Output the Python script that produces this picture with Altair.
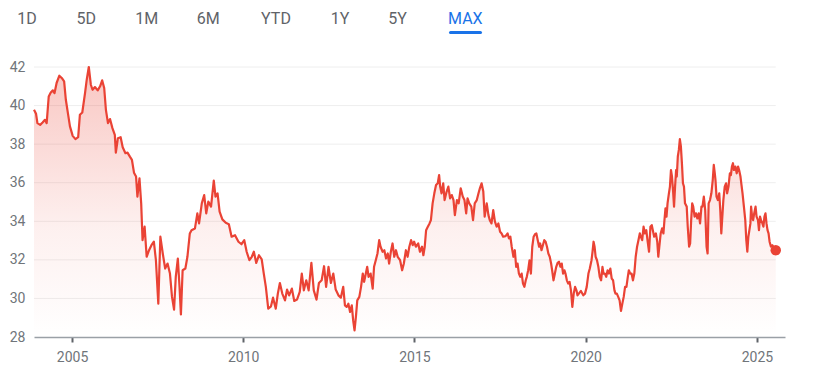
import altair as alt
import pandas as pd

# ---- data (decimal year, price) ----
years = [
    2003.89, 2003.95, 2003.99, 2004.07, 2004.14, 2004.21, 2004.26, 2004.32, 2004.38, 2004.44,
    2004.49, 2004.55, 2004.63, 2004.70, 2004.77, 2004.82, 2004.88, 2004.94, 2005.02, 2005.10,
    2005.18, 2005.23, 2005.30, 2005.38, 2005.43, 2005.49, 2005.55, 2005.60, 2005.67, 2005.75,
    2005.82, 2005.88, 2005.94, 2005.99, 2006.05, 2006.11, 2006.18, 2006.25, 2006.28, 2006.34,
    2006.42, 2006.48, 2006.56, 2006.62, 2006.69, 2006.75, 2006.81, 2006.87, 2006.91, 2006.97,
    2007.02, 2007.06, 2007.12, 2007.18, 2007.25, 2007.32, 2007.39, 2007.45, 2007.52, 2007.58,
    2007.65, 2007.72, 2007.79, 2007.86, 2007.92, 2007.98, 2008.03, 2008.09, 2008.14, 2008.18,
    2008.23, 2008.31, 2008.37, 2008.44,
    2008.49, 2008.59, 2008.66, 2008.71, 2008.79, 2008.86, 2008.92, 2008.98, 2009.06, 2009.14,
    2009.19, 2009.25, 2009.31, 2009.39, 2009.49, 2009.58, 2009.66, 2009.76, 2009.86, 2009.95,
    2010.03, 2010.10, 2010.18, 2010.25, 2010.31, 2010.38, 2010.46, 2010.54, 2010.60, 2010.66,
    2010.73, 2010.81, 2010.87, 2010.95, 2011.01, 2011.07, 2011.14, 2011.22, 2011.28, 2011.34,
    2011.42, 2011.49, 2011.57, 2011.65, 2011.71, 2011.77, 2011.84, 2011.91, 2011.99, 2012.06,
    2012.14, 2012.21, 2012.29, 2012.36, 2012.42, 2012.49, 2012.56, 2012.63, 2012.70, 2012.78,
    2012.85, 2012.92, 2012.97,
    2013.02, 2013.07, 2013.12, 2013.17, 2013.21, 2013.25, 2013.29, 2013.33, 2013.39, 2013.44,
    2013.49, 2013.53, 2013.58, 2013.62, 2013.66, 2013.72, 2013.78, 2013.82, 2013.87, 2013.92,
    2013.97, 2014.01, 2014.07, 2014.12, 2014.17, 2014.22, 2014.26, 2014.31, 2014.36, 2014.41,
    2014.46, 2014.51, 2014.58, 2014.64, 2014.69, 2014.75, 2014.80, 2014.85, 2014.90, 2014.95,
    2014.99, 2015.04, 2015.11, 2015.16, 2015.22, 2015.26, 2015.30, 2015.34, 2015.39, 2015.44,
    2015.48, 2015.53, 2015.58, 2015.63, 2015.68, 2015.72, 2015.75, 2015.79, 2015.84, 2015.88,
    2015.94, 2015.99, 2016.04, 2016.09, 2016.14, 2016.18, 2016.24, 2016.29, 2016.35, 2016.41,
    2016.46, 2016.51, 2016.55, 2016.60, 2016.66, 2016.71, 2016.76, 2016.82, 2016.87, 2016.91,
    2016.96, 2017.01, 2017.05, 2017.11, 2017.16, 2017.20, 2017.25, 2017.30, 2017.35, 2017.40,
    2017.45, 2017.50,
    2017.545, 2017.59, 2017.66, 2017.72, 2017.76, 2017.80, 2017.84, 2017.89, 2017.93, 2017.97,
    2018.01, 2018.05, 2018.09, 2018.13, 2018.17, 2018.21, 2018.25, 2018.28, 2018.32, 2018.36,
    2018.40, 2018.44, 2018.48, 2018.52, 2018.56, 2018.60, 2018.64, 2018.67, 2018.71, 2018.75,
    2018.79, 2018.83, 2018.87, 2018.91, 2018.95, 2018.99, 2019.02, 2019.06, 2019.10, 2019.14,
    2019.18, 2019.22, 2019.26, 2019.30, 2019.34, 2019.38, 2019.41, 2019.45, 2019.49, 2019.53,
    2019.57, 2019.61, 2019.65, 2019.69, 2019.73, 2019.76, 2019.80, 2019.86, 2019.93, 2019.98,
    2020.03, 2020.08, 2020.12, 2020.17, 2020.20, 2020.23, 2020.26, 2020.29, 2020.33, 2020.37,
    2020.41, 2020.45, 2020.49, 2020.52, 2020.56, 2020.60, 2020.64, 2020.68, 2020.72, 2020.76,
    2020.80, 2020.84, 2020.87, 2020.91, 2020.95, 2020.99, 2021.03, 2021.07, 2021.11, 2021.15,
    2021.19, 2021.23, 2021.26, 2021.30, 2021.34, 2021.38, 2021.42, 2021.46, 2021.50, 2021.54,
    2021.58, 2021.61, 2021.65, 2021.69, 2021.73, 2021.77, 2021.81, 2021.85, 2021.89, 2021.93,
    2021.96, 2022.00,
    2022.05, 2022.09, 2022.12, 2022.15, 2022.19, 2022.23, 2022.27, 2022.30, 2022.33, 2022.36,
    2022.39, 2022.43, 2022.46, 2022.49, 2022.52, 2022.55, 2022.58, 2022.61, 2022.64, 2022.66,
    2022.69, 2022.72, 2022.75, 2022.78, 2022.81, 2022.84, 2022.87, 2022.90, 2022.95, 2022.98,
    2023.02, 2023.05, 2023.08, 2023.11, 2023.14, 2023.18, 2023.22, 2023.26, 2023.30, 2023.34,
    2023.38, 2023.41, 2023.45, 2023.49, 2023.53, 2023.56, 2023.59, 2023.63, 2023.67, 2023.71,
    2023.74, 2023.77, 2023.79, 2023.82, 2023.86, 2023.90, 2023.93, 2023.96, 2023.99, 2024.02,
    2024.06, 2024.10, 2024.13, 2024.17, 2024.21, 2024.24, 2024.27, 2024.30, 2024.33, 2024.37,
    2024.41, 2024.45, 2024.48, 2024.52, 2024.55, 2024.58, 2024.62, 2024.66, 2024.69, 2024.72,
    2024.75, 2024.78, 2024.81, 2024.83, 2024.86, 2024.89, 2024.92, 2024.96, 2024.99, 2025.03,
    2025.06, 2025.09, 2025.12, 2025.16, 2025.19, 2025.22, 2025.25, 2025.28, 2025.31, 2025.34,
    2025.37, 2025.41, 2025.45, 2025.48, 2025.52, 2025.55,
]

prices = [
    39.78, 39.57, 39.09, 39.00, 39.12, 39.26, 39.09, 40.47, 40.68, 40.79,
    40.65, 41.17, 41.55, 41.43, 41.25, 40.30, 39.61, 38.92, 38.43, 38.26,
    38.36, 39.52, 39.64, 40.65, 41.34, 42.00, 41.08, 40.82, 40.96, 40.79,
    41.00, 41.31, 40.91, 39.78, 39.09, 39.30, 38.83, 38.48, 37.56, 38.31,
    38.36, 37.84, 37.53, 37.56, 37.35, 37.18, 36.52, 36.32, 35.28, 36.23,
    34.93, 33.02, 33.72, 32.16, 32.50, 32.76, 32.94, 31.98, 29.73, 33.20,
    32.33, 31.55, 31.81, 31.29, 30.08, 29.42, 31.12, 32.07, 30.60, 29.17,
    31.46, 31.55, 32.16, 33.37,
    33.54, 33.63, 34.41, 33.89, 34.93, 35.36, 34.41, 35.02, 34.76, 36.11,
    35.28, 35.45, 34.50, 34.10, 33.92, 33.85, 33.20, 33.28, 32.94, 32.81,
    33.02, 32.42, 31.98, 32.16, 32.42, 31.84, 32.24, 32.02, 31.29, 30.60,
    29.47, 29.59, 30.04, 29.47, 30.25, 30.80, 30.25, 29.90, 30.46, 30.16,
    30.51, 29.87, 29.94, 30.34, 31.29, 30.42, 30.94, 30.42, 31.84, 30.42,
    29.94, 30.80, 30.94, 31.67, 30.60, 31.64, 30.80, 31.29, 30.46, 30.16,
    30.04, 30.60, 29.64,
    29.56, 29.73, 29.30, 29.64, 28.86, 28.34, 29.04, 29.90, 30.08, 30.60,
    31.29, 30.86, 31.29, 31.64, 31.12, 31.29, 30.51, 31.64, 31.98, 32.33,
    33.02, 32.68, 32.42, 32.50, 32.07, 32.33, 31.81, 32.42, 32.85, 32.16,
    32.50, 32.16, 31.98, 31.46, 31.81, 32.50, 32.16, 32.68, 33.02, 32.76,
    32.94, 32.68, 32.85, 32.42, 32.68, 32.24, 32.68, 33.54, 33.72, 33.89,
    34.06, 34.93, 35.45, 35.88, 35.97, 36.40, 35.80, 35.45, 35.97, 35.10,
    35.54, 35.80, 35.19, 35.36, 35.10, 34.32, 35.10, 34.93, 35.71, 35.28,
    35.10, 34.41, 35.19, 34.93, 34.76, 34.06, 34.93, 35.10, 35.45, 35.71,
    35.97, 35.54, 34.24, 34.93, 34.32, 34.06, 33.89, 34.58, 33.98, 33.72,
    33.89, 33.46,
    33.37, 33.20, 33.23, 33.37, 33.11, 33.20, 32.68, 32.16, 32.50, 31.64,
    31.81, 31.29, 31.12, 31.29, 30.77, 30.60, 30.94, 31.12, 31.46, 31.98,
    31.29, 32.68, 33.20, 33.33, 33.37, 33.02, 32.68, 32.85, 32.50, 32.76,
    33.02, 32.94, 32.68, 32.33, 32.16, 31.81, 31.46, 30.94, 31.29, 31.64,
    31.84, 31.90, 31.64, 31.81, 31.29, 31.46, 31.29, 30.94, 30.77, 30.86,
    30.42, 29.56, 30.25, 30.60, 30.42, 30.16, 30.25, 30.39, 30.16, 30.25,
    30.60, 31.29, 31.55, 31.98, 32.42, 32.94, 32.68, 32.16, 31.98, 31.64,
    31.12, 30.94, 31.64, 31.29, 31.29, 31.12, 31.46, 31.29, 31.55, 31.03,
    30.94, 30.42, 30.25, 30.25, 30.08, 29.90, 29.35, 29.73, 30.08, 30.60,
    30.60, 31.12, 31.46, 31.29, 31.29, 30.94, 31.29, 32.16, 32.68, 33.02,
    33.37, 33.20, 33.02, 33.72, 33.37, 33.54, 32.94, 32.42, 33.72, 33.80,
    33.54, 33.20,
    33.37, 32.94, 32.16, 32.68, 33.37, 33.63, 33.37, 34.06, 34.67, 34.24,
    34.93, 35.45, 35.80, 36.66, 36.32, 35.62, 34.76, 35.80, 36.66, 36.32,
    37.36, 37.70, 38.26, 37.88, 37.01, 35.97, 35.80, 34.93, 34.76, 33.72,
    32.68, 32.85, 34.06, 34.93, 34.76, 34.24, 34.41, 34.15, 34.41, 33.89,
    34.76, 34.76, 35.28, 34.58, 32.68, 32.33, 34.93, 35.10, 35.45, 36.14,
    36.92, 36.49, 36.14, 35.28, 35.10, 35.45, 34.58, 33.37, 34.24, 35.10,
    35.80, 35.97, 35.45, 35.80, 36.49, 36.40, 36.84, 37.01, 36.66, 36.84,
    36.49, 36.84, 36.66, 36.32, 35.88, 35.45, 34.76, 34.06, 33.02, 32.42,
    33.20, 33.54, 33.89, 34.76, 34.24, 34.06, 34.41, 34.76, 34.24, 34.06,
    33.54, 34.24, 34.06, 33.89, 33.72, 34.24, 34.41, 33.89, 33.54, 33.37,
    32.94, 32.68, 32.76, 32.68, 32.59, 32.50,
]

y_ticks = [28, 30, 32, 34, 36, 38, 40, 42]
grid_values = [30, 32, 34, 36, 38, 40, 42]
x_ticks = [2005, 2010, 2015, 2020, 2025]
tab_labels = ["1D", "5D", "1M", "6M", "YTD", "1Y", "5Y", "MAX"]
active_tab = "MAX"

# ---- styling / layout ----
RED = "#ea4335"
X_DOMAIN = [2003.89, 2025.82]
Y_DOMAIN = [28, 42]
tab_px = [-7, 52.3, 112.7, 174.3, 242, 306, 363.5, 431.3]  # tab centres relative to plot left

df = pd.DataFrame({"t": years, "price": prices})
last = df.tail(1)
grid_df = pd.DataFrame({"v": grid_values, "t": years[0], "t_end": years[-1]})
tabs_df = pd.DataFrame({"label": tab_labels, "px": tab_px})

xs = alt.Scale(domain=X_DOMAIN, nice=False, zero=False)
ys = alt.Scale(domain=Y_DOMAIN, nice=False, zero=False)

x_axis = alt.Axis(
    values=x_ticks, format="d", title=None, grid=False,
    domainColor="#9aa0a6", domainWidth=1.5,
    tickColor="#5f6368", tickWidth=2, tickSize=5,
    labelColor="#70757a", labelFont="Roboto", labelFontSize=14,
    labelPadding=8,
)
y_axis = alt.Axis(
    values=y_ticks, title=None, grid=False, domain=False, ticks=False,
    labelColor="#70757a", labelFont="Roboto", labelFontSize=14,
    labelPadding=9,
)

grid = alt.Chart(grid_df).mark_rule(color="#eeeeee", strokeWidth=1).encode(
    x=alt.X("t:Q", scale=xs, axis=x_axis),
    x2="t_end:Q",
    y=alt.Y("v:Q", scale=ys, axis=y_axis),
)

area = alt.Chart(df).mark_area(
    color=alt.Gradient(
        gradient="linear",
        stops=[
            alt.GradientStop(color="rgba(234,67,53,0.30)", offset=0),
            alt.GradientStop(color="rgba(234,67,53,0.08)", offset=0.6),
            alt.GradientStop(color="rgba(234,67,53,0.0)", offset=1),
        ],
        x1=1, x2=1, y1=0, y2=1,
    ),
    interpolate="linear",
).encode(
    x=alt.X("t:Q", scale=xs, axis=x_axis),
    y=alt.Y("price:Q", scale=ys, axis=y_axis),
    y2=alt.datum(28),
)

line = alt.Chart(df).mark_line(color=RED, strokeWidth=2.2, strokeJoin="round").encode(
    x=alt.X("t:Q", scale=xs, axis=x_axis),
    y=alt.Y("price:Q", scale=ys, axis=y_axis),
)

dot = alt.Chart(last).mark_circle(color=RED, opacity=1, size=110).encode(
    x=alt.X("t:Q", scale=xs, axis=x_axis),
    y=alt.Y("price:Q", scale=ys, axis=y_axis),
)

tabs = alt.Chart(tabs_df).mark_text(
    font="Roboto", fontSize=16, fontWeight=400, baseline="middle", align="center"
).encode(
    x=alt.X("px:Q", scale=None),
    y=alt.value(-48),
    text="label:N",
    color=alt.condition(
        alt.datum.label == active_tab, alt.value("#1a73e8"), alt.value("#5f6368")
    ),
)

underline = alt.Chart(tabs_df).transform_filter(
    alt.datum.label == active_tab
).mark_rule(color="#1a73e8", strokeWidth=3, strokeCap="round").encode(
    x=alt.value(416.5), x2=alt.value(446.5), y=alt.value(-34.5)
)

chart = alt.layer(grid, area, line, dot, tabs, underline).properties(
    width=751,
    height=270,
    background="white",
    autosize=alt.AutoSizeParams(type="none"),
    padding={"left": 26, "top": 59, "right": 16, "bottom": 30},
).configure_view(stroke=None)

chart.save("out.html", embed_options={"renderer": "svg", "actions": False})
